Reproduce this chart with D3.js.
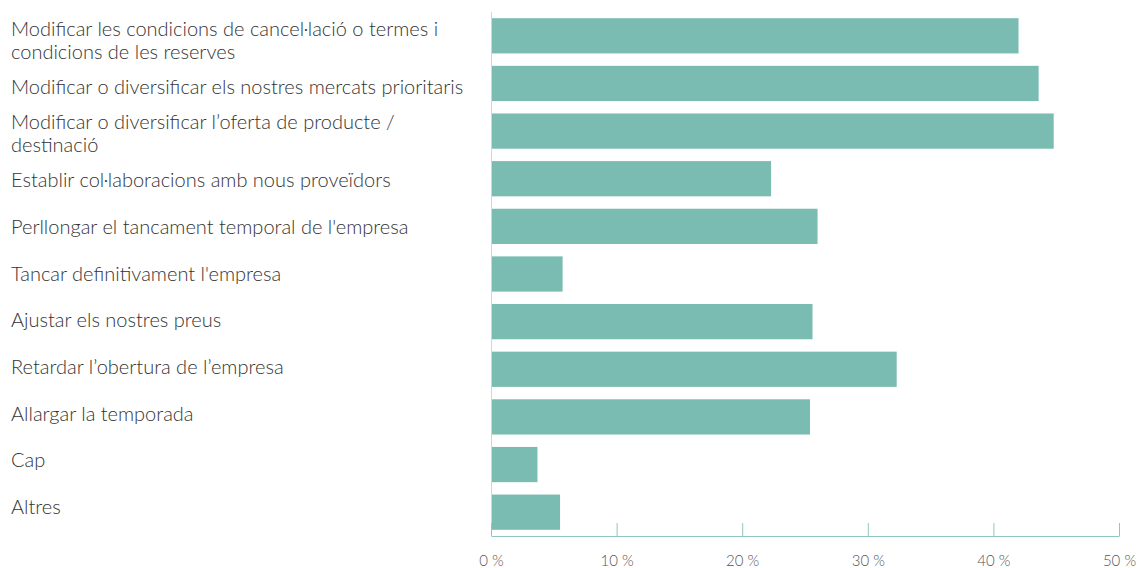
<!DOCTYPE html>
<html>
<head>
<meta charset="utf-8">
<script src="https://cdn.jsdelivr.net/npm/d3@7"></script>
<style>
  body { margin: 0; background: #fff; }
  text { font-family: "Lato", sans-serif; }
</style>
</head>
<body>
<div id="chart"></div>
<script>
// Chart data
var categories = [
  "Modificar les condicions de cancel·lació o termes i condicions de les reserves",
  "Modificar o diversificar els nostres mercats prioritaris",
  "Modificar o diversificar l’oferta de producte / destinació",
  "Establir col·laboracions amb nous proveïdors",
  "Perllongar el tancament temporal de l'empresa",
  "Tancar definitivament l'empresa",
  "Ajustar els nostres preus",
  "Retardar l’obertura de l’empresa",
  "Allargar la temporada",
  "Cap",
  "Altres"
];
var values = [42.0, 43.6, 44.8, 22.3, 26.0, 5.7, 25.6, 32.3, 25.4, 3.7, 5.5];
var tickValues = [0, 10, 20, 30, 40, 50];

var svgWidth = 1141;
var svgHeight = 568;

var margin = { top: 12, right: 22, bottom: 32, left: 491 };
var width = svgWidth - margin.left - margin.right;
var height = svgHeight - margin.top - margin.bottom;

var svg = d3.select("#chart")
  .append("svg")
  .attr("width", svgWidth)
  .attr("height", svgHeight);

var chartGroup = svg.append("g")
  .attr("transform", `translate(${margin.left}, ${margin.top})`);

var xScale = d3.scaleLinear()
  .domain([0, 50])
  .range([0, width]);

var yScale = d3.scaleBand()
  .domain(categories)
  .range([0, height])
  .paddingInner(0.26)
  .paddingOuter(0.13);

// labels sit on their own, slightly tighter grid
var yLabel = d3.scalePoint()
  .domain(categories)
  .range([40, 507]);

// bars
chartGroup.selectAll("rect.bar")
  .data(values)
  .join("rect")
  .attr("class", "bar")
  .attr("x", 0)
  .attr("y", (d, i) => yScale(categories[i]))
  .attr("width", d => xScale(d))
  .attr("height", yScale.bandwidth())
  .attr("fill", "#7bbcb2");

// left line
chartGroup.append("line")
  .attr("x1", 0.5).attr("x2", 0.5)
  .attr("y1", 0).attr("y2", height)
  .attr("stroke", "#c5dcd8");

// bottom axis
var bottomAxis = d3.axisBottom(xScale)
  .tickValues(tickValues)
  .tickSizeInner(-13)
  .tickSizeOuter(0)
  .tickPadding(19)
  .tickFormat(d => d + " %");

var xAxisGroup = chartGroup.append("g")
  .attr("transform", `translate(0, ${height})`)
  .call(bottomAxis);

xAxisGroup.select(".domain").attr("stroke", "#8fc7be");
xAxisGroup.selectAll(".tick line").attr("stroke", "#8fc7be");
xAxisGroup.selectAll(".tick text")
  .attr("fill", "#555")
  .attr("font-size", "15px")
  .attr("font-family", "Lato, sans-serif")
  .attr("font-weight", 300);

// category labels, wrapped
var labelGroup = svg.append("g");
var maxLabelWidth = 462;
var lineHeight = 23;

categories.forEach((c, i) => {
  var t = labelGroup.append("text")
    .attr("x", 11)
    .attr("font-size", "20px")
    .attr("font-weight", 300)
    .attr("fill", "#333");
  var words = c.split(" ");
  var lines = [];
  var line = [];
  var probe = t.append("tspan");
  words.forEach(w => {
    line.push(w);
    probe.text(line.join(" "));
    if (probe.node().getComputedTextLength() > maxLabelWidth && line.length > 1) {
      line.pop();
      lines.push(line.join(" "));
      line = [w];
    }
  });
  lines.push(line.join(" "));
  probe.remove();
  var y0 = yLabel(c) - (lines.length - 1) * lineHeight / 2 + 7;
  lines.forEach((l, k) => {
    t.append("tspan")
      .attr("x", 11)
      .attr("y", y0 + k * lineHeight)
      .text(l);
  });
});
</script>
</body>
</html>
